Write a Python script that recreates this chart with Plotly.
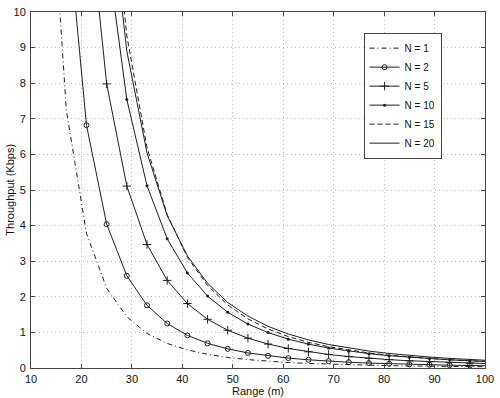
import plotly.graph_objects as go

# Range (m) sample points of each curve
ranges = [13, 17, 21, 25, 29, 33, 37, 41, 45, 49, 53, 57, 61, 65, 69, 73, 77, 81, 85, 89, 93, 97, 101]

# Throughput (Kbps)
n1 = [15.9, 7.25, 3.78, 2.24, 1.44, 0.97, 0.69, 0.51, 0.384, 0.297, 0.235, 0.189, 0.154, 0.127,
      0.107, 0.090, 0.077, 0.066, 0.057, 0.050, 0.044, 0.038, 0.034]
n2 = [28.7, 12.86, 6.82, 4.04, 2.59, 1.76, 1.25, 0.916, 0.693, 0.537, 0.424, 0.341, 0.278, 0.230,
      0.192, 0.162, 0.138, 0.119, 0.103, 0.090, 0.079, 0.069, 0.061]
n5 = [56.8, 25.4, 13.47, 7.98, 5.11, 3.47, 2.46, 1.81, 1.368, 1.06, 0.837, 0.673, 0.549, 0.454,
      0.380, 0.321, 0.273, 0.235, 0.203, 0.177, 0.155, 0.137, 0.121]
n10 = [83.7, 37.5, 19.87, 11.78, 7.54, 5.12, 3.63, 2.67, 2.02, 1.564, 1.236, 0.994, 0.811, 0.670,
       0.560, 0.473, 0.403, 0.346, 0.300, 0.261, 0.229, 0.202, 0.179]
n15 = [128.0, 54.0, 25.0, 14.93, 9.33, 6.19, 4.31, 3.11, 2.32, 1.77, 1.38, 1.095, 0.883, 0.722,
       0.598, 0.500, 0.422, 0.359, 0.309, 0.267, 0.232, 0.203, 0.179]
n20 = [98.8, 44.2, 23.4, 13.9, 8.9, 6.04, 4.28, 3.15, 2.38, 1.84, 1.46, 1.17, 0.956, 0.790,
       0.660, 0.558, 0.475, 0.408, 0.353, 0.308, 0.270, 0.238, 0.210]

x_ticks = [10, 20, 30, 40, 50, 60, 70, 80, 90, 100]
y_ticks = [0, 1, 2, 3, 4, 5, 6, 7, 8, 9, 10]

FONT = "Liberation Sans, Arial, sans-serif"
C = "#1e1e1e"
fig = go.Figure()
fig.add_trace(go.Scatter(x=ranges, y=n1, name="N = 1", mode="lines",
                         line=dict(color=C, width=1, dash="5px,3px,1px,3px")))
fig.add_trace(go.Scatter(x=ranges, y=n2, name="N = 2", mode="lines+markers",
                         line=dict(color=C, width=1),
                         marker=dict(symbol="circle-open", size=5, color=C, line=dict(width=1, color=C))))
fig.add_trace(go.Scatter(x=ranges, y=n5, name="N = 5", mode="lines+markers",
                         line=dict(color=C, width=1),
                         marker=dict(symbol="cross-thin", size=6, color=C, line=dict(width=1, color=C))))
fig.add_trace(go.Scatter(x=ranges, y=n10, name="N = 10", mode="lines+markers",
                         line=dict(color=C, width=1),
                         marker=dict(symbol="circle", size=3, color=C)))
fig.add_trace(go.Scatter(x=ranges, y=n15, name="N = 15", mode="lines",
                         line=dict(color=C, width=1, dash="5px,3px")))
fig.add_trace(go.Scatter(x=ranges, y=n20, name="N = 20", mode="lines",
                         line=dict(color=C, width=1)))

axis_common = dict(
    showline=True, linecolor="#444", linewidth=1, mirror="ticks",
    ticks="inside", ticklen=4, tickcolor="#444",
    showgrid=True, gridcolor="#bdbdbd", griddash="1px,3px", gridwidth=1,
    zeroline=False,
    tickfont=dict(family=FONT, size=11, color="#111"),
)

fig.update_xaxes(range=[10, 100], tickvals=x_ticks, ticktext=[str(v) for v in x_ticks],
                 ticklabelstandoff=1, **axis_common)
fig.update_yaxes(range=[0, 10], tickvals=y_ticks, ticktext=[str(v) for v in y_ticks],
                 ticklabelstandoff=2, **axis_common)

fig.add_annotation(text="Range (m)", xref="paper", yref="paper", x=0.5, y=-0.066,
                   xanchor="center", yanchor="middle", showarrow=False,
                   font=dict(family=FONT, size=11, color="#111"))
fig.add_annotation(text="Throughput (Kbps)", xref="paper", yref="paper", x=-0.047, y=0.5,
                   xanchor="center", yanchor="middle", showarrow=False, textangle=-90,
                   font=dict(family=FONT, size=11, color="#111"))

fig.update_layout(
    width=500, height=398,
    margin=dict(l=31, r=11, t=6, b=30),
    plot_bgcolor="white", paper_bgcolor="white",
    showlegend=True,
    legend=dict(x=0.7325, y=0.942, xanchor="left", yanchor="top",
                bgcolor="white", bordercolor="#444", borderwidth=1,
                font=dict(family=FONT, size=10, color="#111"),
                tracegroupgap=0),
)

fig.write_html("out.html", config={"displayModeBar": False},
               post_script="document.body.style.margin='0';")
